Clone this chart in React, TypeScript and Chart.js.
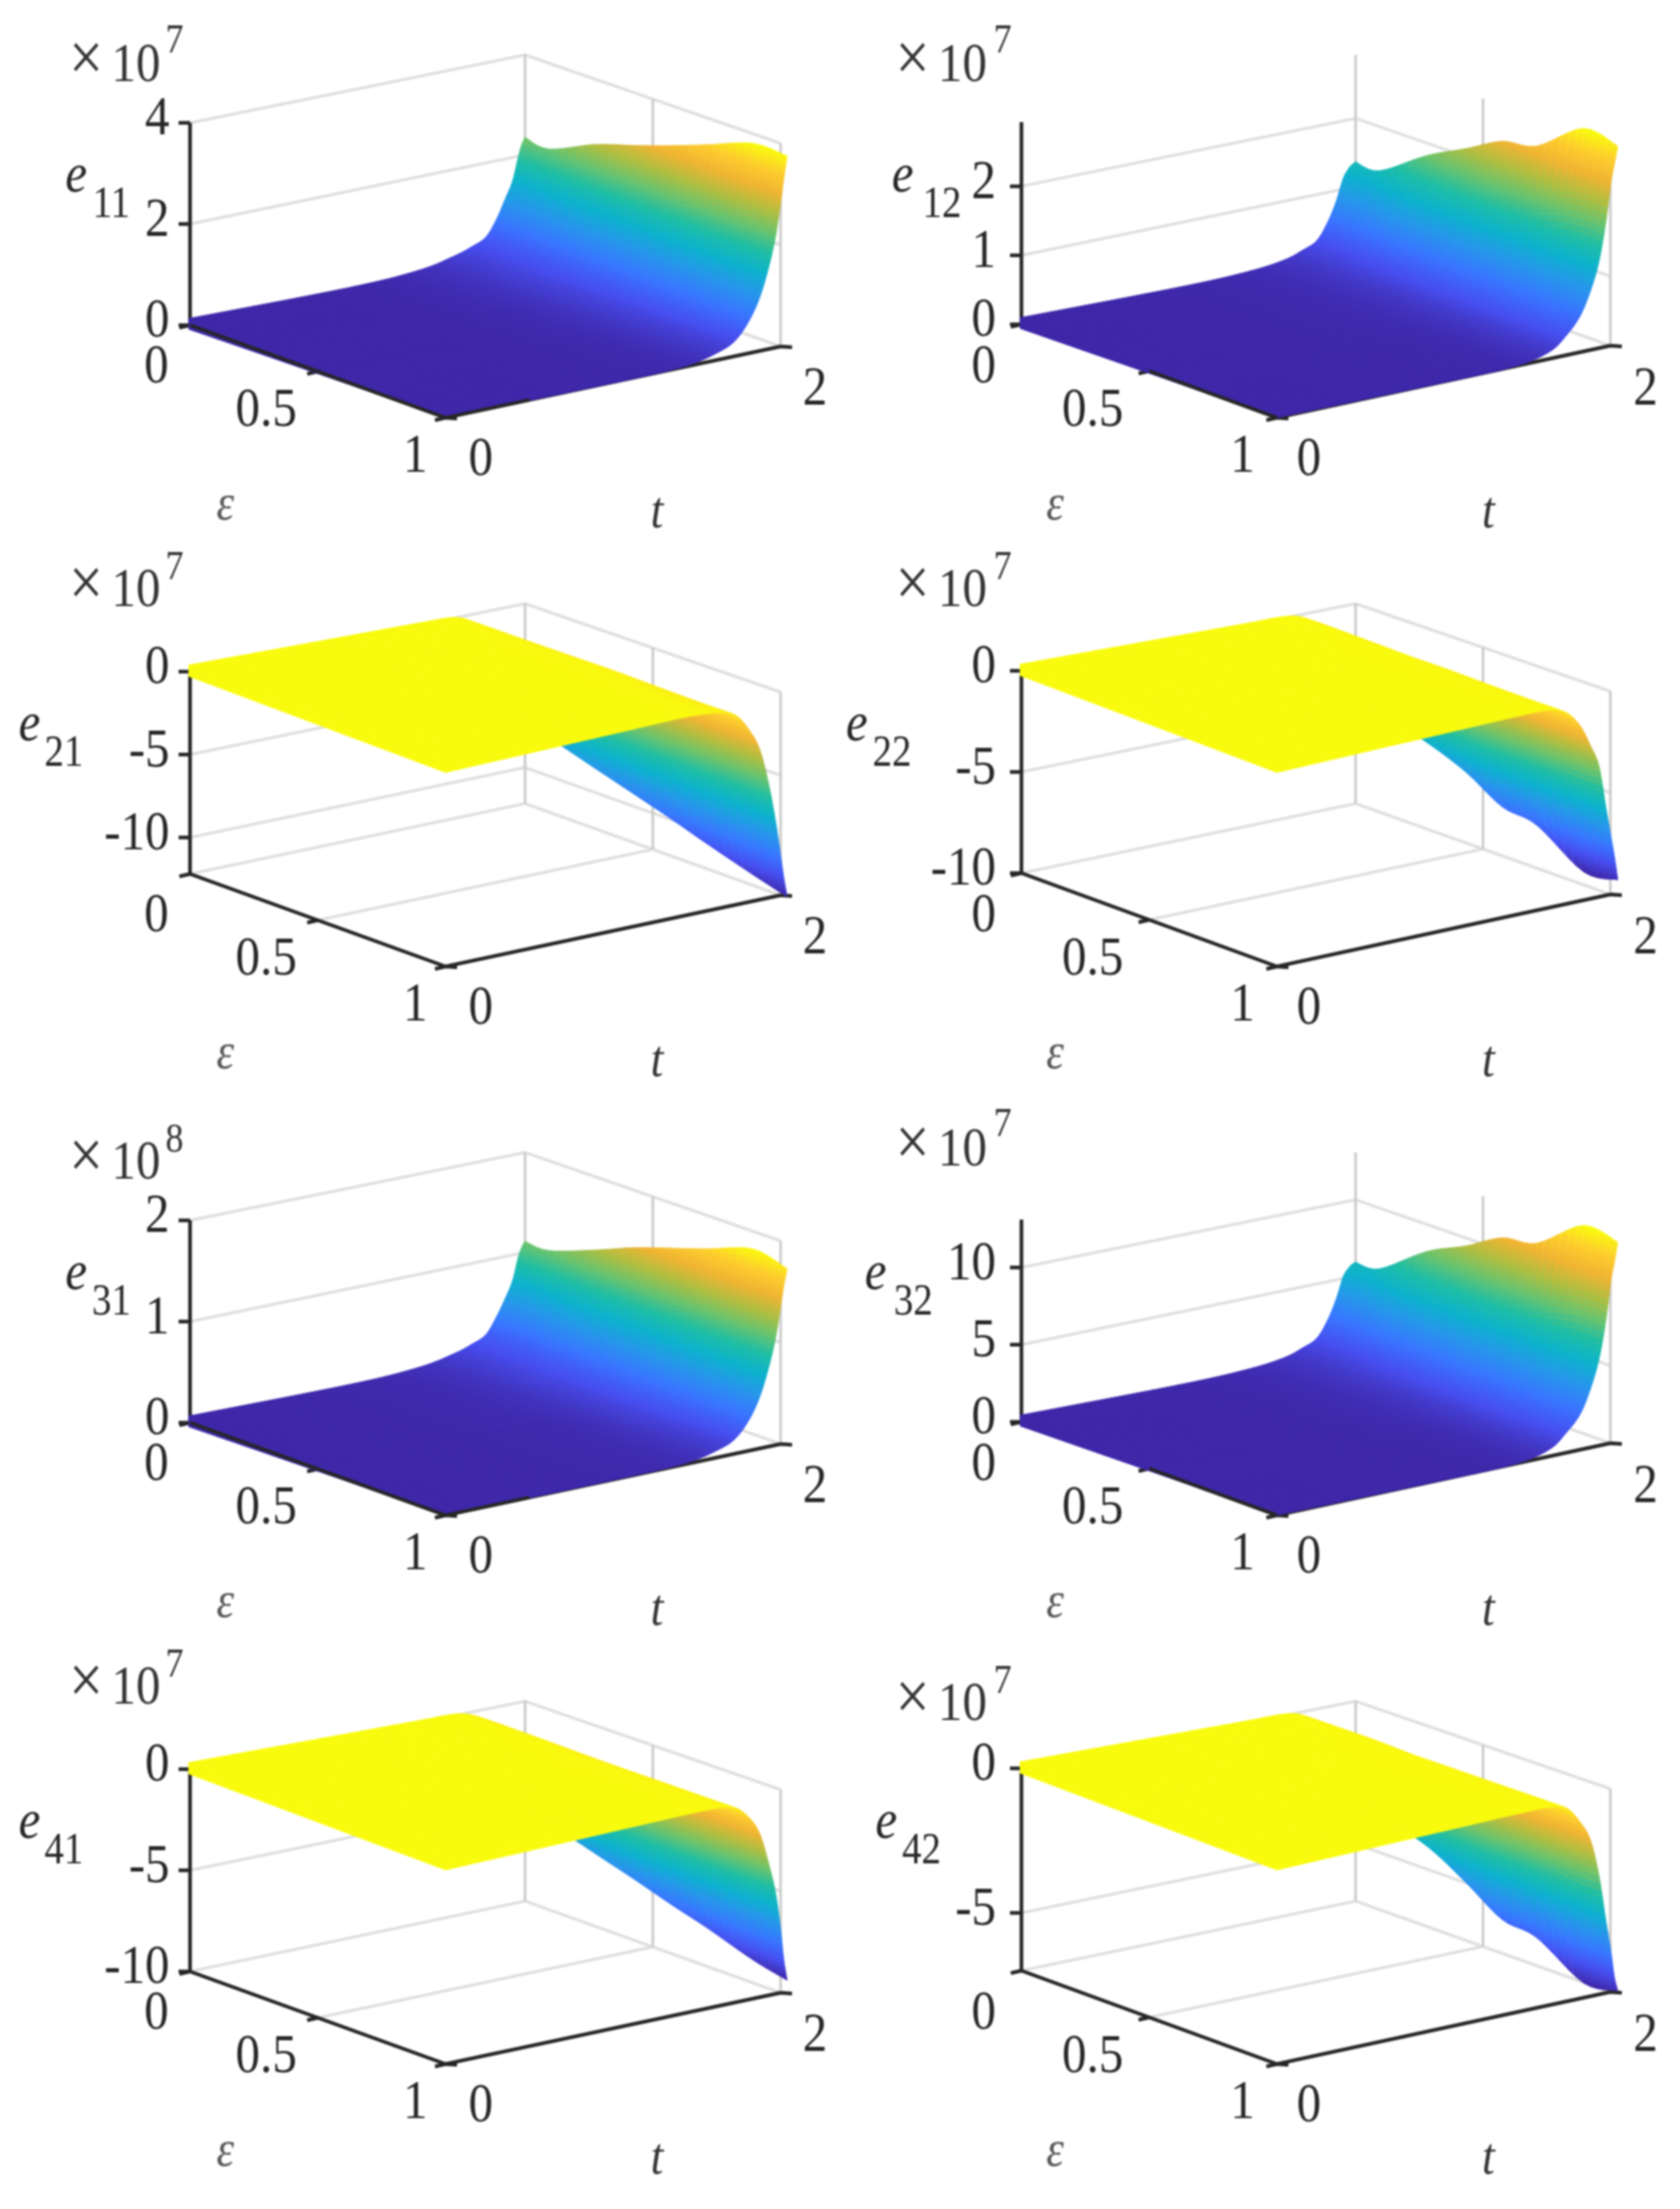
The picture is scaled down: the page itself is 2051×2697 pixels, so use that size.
import Chart from "chart.js/auto";
import { useRef, useEffect } from "react";

// surface grid
const EPS = [0, 0.09, 0.27, 0.42, 0.56, 0.69, 0.87, 1];
const T = [0, 1, 1.4, 1.6, 1.7, 1.78, 1.84, 1.89, 1.93, 1.96, 1.98, 2];

const E11 = [
  [0, 0.01, 0.09, 0.24, 0.36, 0.5, 0.82, 1.2, 1.52, 1.95, 2.2, 2.35],
  [0, 0.01, 0.08, 0.22, 0.34, 0.49, 0.78, 1.14, 1.46, 1.86, 2.12, 2.28],
  [0, 0.01, 0.08, 0.23, 0.36, 0.55, 0.87, 1.25, 1.64, 2.1, 2.42, 2.7],
  [0, 0.01, 0.07, 0.22, 0.36, 0.58, 0.92, 1.33, 1.76, 2.26, 2.6, 2.95],
  [0, 0.01, 0.07, 0.22, 0.37, 0.62, 0.98, 1.43, 1.9, 2.43, 2.82, 3.2],
  [0, 0.01, 0.06, 0.21, 0.37, 0.65, 1.03, 1.52, 2.03, 2.62, 3.04, 3.45],
  [0, 0.01, 0.05, 0.2, 0.37, 0.7, 1.1, 1.63, 2.2, 2.84, 3.34, 3.8],
  [0, 0.01, 0.05, 0.2, 0.37, 0.71, 1.12, 1.65, 2.22, 2.85, 3.35, 3.78],
];
const E12 = [
  [0, 0.01, 0.05, 0.12, 0.21, 0.31, 0.54, 0.83, 1.15, 1.28, 1.33, 1.36],
  [0, 0.01, 0.04, 0.11, 0.2, 0.31, 0.52, 0.8, 1.08, 1.22, 1.3, 1.35],
  [0, 0.01, 0.04, 0.12, 0.23, 0.37, 0.62, 0.96, 1.3, 1.5, 1.66, 1.81],
  [0, 0.01, 0.04, 0.12, 0.25, 0.42, 0.69, 1.05, 1.43, 1.68, 1.9, 2.11],
  [0, 0.01, 0.04, 0.13, 0.27, 0.47, 0.76, 1.13, 1.56, 1.88, 2.15, 2.4],
  [0, 0.01, 0.03, 0.13, 0.29, 0.5, 0.8, 1.18, 1.62, 1.98, 2.25, 2.5],
  [0, 0.01, 0.03, 0.14, 0.32, 0.56, 0.89, 1.3, 1.84, 2.33, 2.68, 2.99],
  [0, 0.01, 0.03, 0.14, 0.33, 0.57, 0.9, 1.3, 1.85, 2.4, 2.65, 2.9],
];
const E21 = [
  [0, 0, 0, -0.05, -0.5, -1.1, -2.0, -3.0, -4.3, -5.6, -6.4, -7.25],
  [0, 0, 0, -0.05, -0.5, -1.1, -2.1, -3.2, -4.6, -5.9, -6.8, -7.65],
  [0, 0, 0, -0.1, -0.5, -1.2, -2.3, -3.6, -5.1, -6.6, -7.6, -8.56],
  [0, 0, 0, -0.1, -0.5, -1.3, -2.4, -3.8, -5.5, -7.2, -8.2, -9.3],
  [0, 0, 0, -0.1, -0.5, -1.4, -2.5, -4.1, -5.9, -7.7, -8.8, -10],
  [0, 0, 0, -0.15, -0.55, -1.5, -2.7, -4.4, -6.4, -8.2, -9.4, -10.7],
  [0, 0, 0, -0.2, -0.6, -1.6, -2.9, -4.8, -7.0, -9.0, -10.4, -11.6],
  [0, 0, 0, -0.2, -0.6, -1.7, -3.0, -5.1, -7.4, -9.5, -11.0, -12.2],
];
const E22 = [
  [0, 0, 0, 0, -0.2, -0.7, -1.3, -2.0, -3.0, -3.9, -4.5, -4.9],
  [0, 0, 0, 0, -0.2, -0.7, -1.4, -2.1, -3.1, -4.0, -4.6, -5.0],
  [0, 0, 0, 0, -0.25, -0.8, -1.5, -2.4, -3.4, -4.5, -5.1, -5.7],
  [0, 0, 0, 0, -0.3, -0.9, -1.7, -2.7, -4.0, -5.2, -5.9, -6.5],
  [0, 0, 0, -0.05, -0.3, -1, -1.9, -3, -4.5, -6, -6.9, -7.6],
  [0, 0, 0, -0.05, -0.35, -1.1, -2.0, -3.1, -4.7, -6.2, -7.1, -7.9],
  [0, 0, 0, -0.05, -0.4, -1.2, -2.2, -3.4, -5.4, -7.1, -8.3, -9.4],
  [0, 0, 0, -0.05, -0.4, -1.2, -2.3, -3.4, -5.5, -7.0, -8.0, -9.2],
];
const E31 = [
  [0, 0.01, 0.05, 0.12, 0.18, 0.25, 0.41, 0.58, 0.74, 0.95, 1.05, 1.11],
  [0, 0.01, 0.04, 0.11, 0.17, 0.24, 0.39, 0.56, 0.72, 0.92, 1.03, 1.1],
  [0, 0.01, 0.04, 0.12, 0.18, 0.27, 0.43, 0.61, 0.8, 1.02, 1.16, 1.27],
  [0, 0.01, 0.04, 0.11, 0.18, 0.29, 0.46, 0.66, 0.87, 1.11, 1.28, 1.43],
  [0, 0.01, 0.03, 0.11, 0.19, 0.31, 0.49, 0.71, 0.94, 1.19, 1.38, 1.55],
  [0, 0.01, 0.03, 0.11, 0.19, 0.32, 0.51, 0.75, 0.99, 1.28, 1.48, 1.66],
  [0, 0.01, 0.03, 0.1, 0.18, 0.34, 0.54, 0.8, 1.07, 1.38, 1.62, 1.82],
  [0, 0.01, 0.03, 0.1, 0.18, 0.34, 0.54, 0.8, 1.07, 1.37, 1.58, 1.74],
];
const E32 = [
  [0, 0.04, 0.22, 0.53, 0.93, 1.38, 2.4, 3.7, 5.1, 5.6, 5.8, 5.9],
  [0, 0.04, 0.18, 0.49, 0.89, 1.38, 2.3, 3.6, 4.8, 5.4, 5.8, 6.0],
  [0, 0.04, 0.18, 0.53, 1.02, 1.65, 2.8, 4.3, 5.9, 6.8, 7.5, 8.2],
  [0, 0.04, 0.18, 0.53, 1.1, 1.9, 3.1, 4.7, 6.4, 7.5, 8.5, 9.45],
  [0, 0.04, 0.18, 0.58, 1.2, 2.1, 3.4, 5.1, 7.0, 8.4, 9.6, 10.8],
  [0, 0.04, 0.13, 0.58, 1.3, 2.2, 3.6, 5.3, 7.3, 8.9, 10.1, 11.2],
  [0, 0.04, 0.13, 0.62, 1.4, 2.5, 4.0, 5.8, 8.2, 10.4, 12.0, 13.4],
  [0, 0.04, 0.13, 0.62, 1.5, 2.5, 4.0, 5.8, 8.2, 10.7, 11.8, 13.06],
];
const E41 = [
  [0, 0, 0, 0, -0.2, -0.6, -1.1, -1.9, -2.9, -3.9, -4.6, -5.3],
  [0, 0, 0, 0, -0.2, -0.6, -1.2, -2.0, -3.1, -4.2, -5.0, -5.66],
  [0, 0, 0, 0, -0.2, -0.7, -1.3, -2.3, -3.5, -4.7, -5.6, -6.4],
  [0, 0, 0, -0.05, -0.25, -0.7, -1.4, -2.5, -3.8, -5.2, -6.1, -7.0],
  [0, 0, 0, -0.05, -0.25, -0.8, -1.5, -2.7, -4.1, -5.6, -6.6, -7.6],
  [0, 0, 0, -0.05, -0.25, -0.8, -1.6, -2.9, -4.4, -6.0, -7.1, -8.1],
  [0, 0, 0, -0.05, -0.25, -0.9, -1.7, -3.1, -4.7, -6.4, -7.9, -8.9],
  [0, 0, 0, -0.05, -0.25, -0.9, -1.8, -3.3, -4.8, -6.6, -8.25, -9.3],
];
const E42 = [
  [0, 0, 0, 0, -0.15, -0.5, -0.9, -1.5, -2.2, -2.8, -3.3, -3.6],
  [0, 0, 0, 0, -0.15, -0.5, -1.0, -1.6, -2.3, -2.9, -3.4, -3.7],
  [0, 0, 0, 0, -0.15, -0.55, -1.1, -1.8, -2.6, -3.3, -3.8, -4.2],
  [0, 0, 0, 0, -0.2, -0.6, -1.2, -2.0, -3.0, -3.9, -4.5, -5.0],
  [0, 0, 0, -0.02, -0.2, -0.7, -1.3, -2.3, -3.5, -4.5, -5.3, -5.85],
  [0, 0, 0, -0.02, -0.2, -0.7, -1.4, -2.4, -3.7, -4.7, -5.5, -6.05],
  [0, 0, 0, -0.03, -0.2, -0.8, -1.5, -2.8, -4.3, -5.5, -6.4, -7.05],
  [0, 0, 0, -0.03, -0.2, -0.8, -1.5, -2.8, -4.4, -5.5, -6.4, -6.9],
];

const EPS_TICKS = [0, 0.5, 1];
const T_TICKS = [0, 2];
const Z_TICKS_11 = [0, 2, 4];
const Z_TICKS_12 = [0, 1, 2];
const Z_TICKS_21 = [0, -5, -10];
const Z_TICKS_22 = [0, -5, -10];
const Z_TICKS_31 = [0, 1, 2];
const Z_TICKS_32 = [0, 5, 10];
const Z_TICKS_41 = [0, -5, -10];
const Z_TICKS_42 = [0, -5];

const PARULA = [
  [0, 62, 38, 168],
  [0.1, 70, 78, 240],
  [0.2, 56, 118, 255],
  [0.3, 38, 150, 235],
  [0.4, 12, 178, 205],
  [0.5, 30, 190, 165],
  [0.6, 105, 195, 110],
  [0.7, 175, 190, 65],
  [0.8, 240, 180, 50],
  [0.9, 253, 205, 45],
  [1, 249, 251, 14],
];

function parula(v: number) {
  const c = Math.max(0, Math.min(1, v));
  let i = 0;
  while (i < PARULA.length - 2 && PARULA[i + 1][0] < c) i++;
  const a = PARULA[i];
  const b = PARULA[i + 1];
  const f = (c - a[0]) / (b[0] - a[0]);
  const ch = (k: number) => Math.round(a[k] + (b[k] - a[k]) * f);
  return `rgb(${ch(1)},${ch(2)},${ch(3)})`;
}

// box corners on the page: L eps=0,t=0  F eps=1,t=0  R eps=1,t=2  B eps=0,t=2
// the surface overhangs the box a little at L and R in the picture
const BOX = [
  { L: [232, 397], F: [544, 510], R: [953, 423], B: [641, 311], surfL: [206, 393.5], surfR: [961, 425], width: 1020, left: 0 },
  { L: [227, 396], F: [539, 510], R: [946, 422], B: [635, 311], surfL: [201, 392.5], surfR: [955, 424], width: 1031, left: 1020 },
];
const BOX_H = { L: 247, F: 237, R: 248, B: 244 };
const ROW_TOP = [0, 670, 1340, 2010];
const ROW_H = [670, 670, 670, 687];

const PANELS = [
  { sub: "11", exp: "7", col: 0, row: 0, values: E11, zLim: [0, 4], zTicks: Z_TICKS_11, eX: 93, subX: 136, multY: 77, supY: 47, frontEps: [0, 1], frontT: 0.5 },
  { sub: "12", exp: "7", col: 1, row: 0, values: E12, zLim: [0, 2.93], zTicks: Z_TICKS_12, eX: 82, subX: 130, multY: 77, supY: 47, frontEps: [0.5, 1], frontT: 0 },
  { sub: "21", exp: "7", col: 0, row: 1, values: E21, zLim: [-12.2, 0], zTicks: Z_TICKS_21, eX: 36, subX: 78, multY: 48, supY: 20 },
  { sub: "22", exp: "7", col: 1, row: 1, values: E22, zLim: [-10, 0], zTicks: Z_TICKS_22, eX: 26, subX: 69, multY: 48, supY: 20 },
  { sub: "31", exp: "8", col: 0, row: 2, values: E31, zLim: [0, 2], zTicks: Z_TICKS_31, eX: 93, subX: 136, multY: 77, supY: 49, frontEps: [0, 1], frontT: 0.5 },
  { sub: "32", exp: "7", col: 1, row: 2, values: E32, zLim: [0, 13.1], zTicks: Z_TICKS_32, eX: 49, subX: 95, multY: 61, supY: 30, frontEps: [0.5, 1], frontT: 0 },
  { sub: "41", exp: "7", col: 0, row: 3, values: E41, zLim: [-10, 0], zTicks: Z_TICKS_41, eX: 36, subX: 78, multY: 48, supY: 20 },
  { sub: "42", exp: "7", col: 1, row: 3, values: E42, zLim: [-7, 0], zTicks: Z_TICKS_42, eX: 62, subX: 105, multY: 68, supY: 40 },
];

const TEXT_POS = [
  { zRight: 207, epsX: [191, 325, 507], tX: [587, 995], multX: 105, tenX: 166, supX: 213, epsName: 275, tName: 802 },
  { zRight: 196, epsX: [181, 314, 497], tX: [578, 989], multX: 94, tenX: 155, supX: 204, epsName: 268, tName: 797 },
];
const EPS_Y = [445, 498, 554];
const T_Y = [558, 472];

function corners(e: number, t: number, L: number, F: number, R: number, B: number) {
  const tau = t / 2;
  return (1 - e) * (1 - tau) * L + e * (1 - tau) * F + e * tau * R + (1 - e) * tau * B;
}

function project(box: any, zLim: number[], e: number, t: number, z: number, onSurface = false) {
  const l = onSurface ? box.surfL : box.L;
  const r = onSurface ? box.surfR : box.R;
  const h = corners(e, t, BOX_H.L, BOX_H.F, BOX_H.R, BOX_H.B);
  const frac = (z - zLim[0]) / (zLim[1] - zLim[0]);
  return {
    x: corners(e, t, l[0], box.F[0], r[0], box.B[0]),
    y: corners(e, t, l[1], box.F[1], r[1], box.B[1]) - frac * h,
    z,
  };
}

function spline(a: number, b: number, c: number, d: number, u: number) {
  return 0.5 * (2 * b + (c - a) * u + (2 * a - 5 * b + 4 * c - d) * u * u + (3 * b - a - 3 * c + d) * u * u * u);
}

// smooth reading of a grid field between its nodes, the way interpolated shading looks
function field(get: (i: number, j: number) => number, i: number, j: number, u: number, w: number) {
  const ci = (k: number) => Math.max(0, Math.min(EPS.length - 1, k));
  const cj = (k: number) => Math.max(0, Math.min(T.length - 1, k));
  const row = (k: number) =>
    spline(get(ci(k), cj(j - 1)), get(ci(k), cj(j)), get(ci(k), cj(j + 1)), get(ci(k), cj(j + 2)), w);
  return spline(row(i - 1), row(i), row(i + 1), row(i + 2), u);
}

const GAP = { x: NaN, y: NaN };
const SUB = 6;

function Panel({ p }: { p: any }) {
  const ref = useRef<HTMLCanvasElement>(null);
  const box = BOX[p.col];
  const height = ROW_H[p.row];

  useEffect(() => {
    if (!ref.current) return;
    const [zMin, zMax] = p.zLim;
    const P = (e: number, t: number, z: number) => project(box, p.zLim, e, t, z);
    const nudge = (q: any, dx: number, dy: number) => ({ x: q.x + dx, y: q.y + dy });

    const surface: any[] = [];
    EPS.forEach((e, i) => T.forEach((t, j) => surface.push(project(box, p.zLim, e, t, p.values[i][j], true))));

    // slanted grid lines on the two walls and the floor
    const grid: any[] = [];
    p.zTicks.forEach((z: number) => grid.push(P(0, 0, z), P(0, 2, z), P(1, 2, z), GAP));
    grid.push(P(0, 0, zMin), P(0, 2, zMin), P(1, 2, zMin), GAP);
    grid.push(P(0.5, 0, zMin), P(0.5, 2, zMin), GAP);

    const verticals: any[] = [];
    [0, 0.5, 1].forEach((e) => verticals.push(P(e, 2, zMin), P(e, 2, zMax), GAP));

    const axes: any[] = [P(0, 0, zMax), P(0, 0, zMin), P(1, 0, zMin), P(1, 2, zMin), GAP];
    p.zTicks.forEach((z: number) => axes.push(P(0, 0, z), nudge(P(0, 0, z), -14, 0), GAP));
    EPS_TICKS.forEach((e) => axes.push(P(e, 0, zMin), nudge(P(e, 0, zMin), -13, 3), GAP));
    T_TICKS.forEach((t) => axes.push(P(1, t, zMin), nudge(P(1, t, zMin), 14, 1), GAP));

    // parts of the floor axes that show through on top of the surface
    const front: any[] = [];
    if (p.frontEps) {
      front.push(P(p.frontEps[0], 0, zMin), P(p.frontEps[1], 0, zMin), GAP);
      if (p.frontT) front.push(P(1, 0, zMin), P(1, p.frontT, zMin), GAP);
    }

    const flat = p.values.flat();
    const cMin = Math.min(...flat);
    const cMax = Math.max(...flat);

    const surfacePlugin = {
      id: "surface",
      // index 1 carries the surface nodes; lower indexes are painted after it
      beforeDatasetDraw(chart: any, args: any) {
        if (args.index !== 1) return;
        const ctx = chart.ctx;
        const pts = chart.getDatasetMeta(1).data;
        const gx = (i: number, j: number) => pts[i * T.length + j].x;
        const gy = (i: number, j: number) => pts[i * T.length + j].y;
        const gz = (i: number, j: number) => p.values[i][j];
        ctx.save();
        ctx.beginPath();
        ctx.rect(box.L[0] - 2, 0, box.width, height);
        ctx.clip();
        ctx.lineWidth = 1;
        ctx.lineJoin = "round";
        // far corner (eps=0, t=2) first, so nearer cells cover it
        for (let i = 0; i < EPS.length - 1; i++) {
          for (let j = T.length - 2; j >= 0; j--) {
            for (let a = 0; a < SUB; a++) {
              for (let b = SUB - 1; b >= 0; b--) {
                const node = (u: number, w: number) => [field(gx, i, j, u, w), field(gy, i, j, u, w)];
                const u0 = a / SUB, u1 = (a + 1) / SUB, w0 = b / SUB, w1 = (b + 1) / SUB;
                const z = field(gz, i, j, (u0 + u1) / 2, (w0 + w1) / 2);
                const col = parula((z - cMin) / (cMax - cMin));
                ctx.fillStyle = col;
                ctx.strokeStyle = col;
                const q = [node(u0, w0), node(u0, w1), node(u1, w1), node(u1, w0)];
                ctx.beginPath();
                ctx.moveTo(q[0][0], q[0][1]);
                q.slice(1).forEach((c) => ctx.lineTo(c[0], c[1]));
                ctx.closePath();
                ctx.fill();
                ctx.stroke();
              }
            }
          }
        }
        ctx.restore();
      },
      afterDraw(chart: any) {
        const ctx = chart.ctx;
        const tp = TEXT_POS[p.col];
        // digits in the picture are narrower than the font, so squeeze them a little
        const put = (s: string, x: number, y: number, size: number, opt: any = {}) => {
          ctx.save();
          ctx.font = `${opt.italic ? "italic " : ""}${size}px "Liberation Serif"`;
          ctx.fillStyle = opt.color || "#262626";
          ctx.textAlign = opt.align || "center";
          ctx.textBaseline = "alphabetic";
          ctx.translate(x, y + size * 0.33);
          ctx.scale(0.88, 1);
          ctx.fillText(s, 0, 0);
          ctx.restore();
        };
        p.zTicks.forEach((z: number) => {
          put(String(z), tp.zRight, P(0, 0, z).y - 8, 68, { align: "right" });
        });
        EPS_TICKS.forEach((e, i) => put(String(e), tp.epsX[i], EPS_Y[i], 68));
        T_TICKS.forEach((t, i) => put(String(t), tp.tX[i], T_Y[i], 68));
        put("ε", tp.epsName, 614, 62, { italic: true, color: "#555" });
        put("t", tp.tName, 623, 64, { italic: true, color: "#333" });
        put("e", p.eX, 212, 68, { italic: true });
        put(p.sub, p.subX, 247, 54);
        put("×", tp.multX, p.multY - 7, 84, { color: "#333" });
        put("10", tp.tenX, p.multY, 68, { color: "#333" });
        put(p.exp, tp.supX, p.supY, 50, { color: "#333" });
      },
    };

    const line = (data: any[], color: string, width: number) => ({
      data,
      showLine: true,
      borderColor: color,
      borderWidth: width,
      pointRadius: 0,
      spanGaps: false,
      borderCapStyle: "butt",
    });

    // Chart.js paints the first dataset last, so this list runs from top to bottom
    const chart = new Chart(ref.current, {
      type: "scatter",
      data: {
        datasets: [
          line(front, "#262626", 4),
          { data: surface, showLine: false, pointRadius: 0 },
          line(axes, "#262626", 4.5),
          line(verticals, "#c8c8c8", 3),
          line(grid, "#dedede", 3.5),
        ] as any,
      },
      options: {
        animation: false,
        responsive: false,
        devicePixelRatio: 1,
        layout: { padding: 0 },
        plugins: { legend: { display: false }, tooltip: { enabled: false } },
        scales: {
          x: { type: "linear", min: 0, max: box.width, display: false },
          y: { type: "linear", min: 0, max: height, reverse: true, display: false },
        },
      } as any,
      plugins: [surfacePlugin],
    });

    return () => chart.destroy();
  }, [p]);

  return (
    <canvas
      ref={ref}
      width={box.width}
      height={height}
      style={{
        position: "absolute",
        left: box.left,
        top: ROW_TOP[p.row],
        width: box.width,
        height,
        filter: "blur(1px)",
      }}
    />
  );
}

export default function App() {
  return (
    <div style={{ position: "absolute", left: 0, top: 0, width: 2051, height: 2697, background: "#fff", overflow: "hidden" }}>
      {PANELS.map((p) => (
        <Panel key={p.sub} p={p} />
      ))}
    </div>
  );
}
